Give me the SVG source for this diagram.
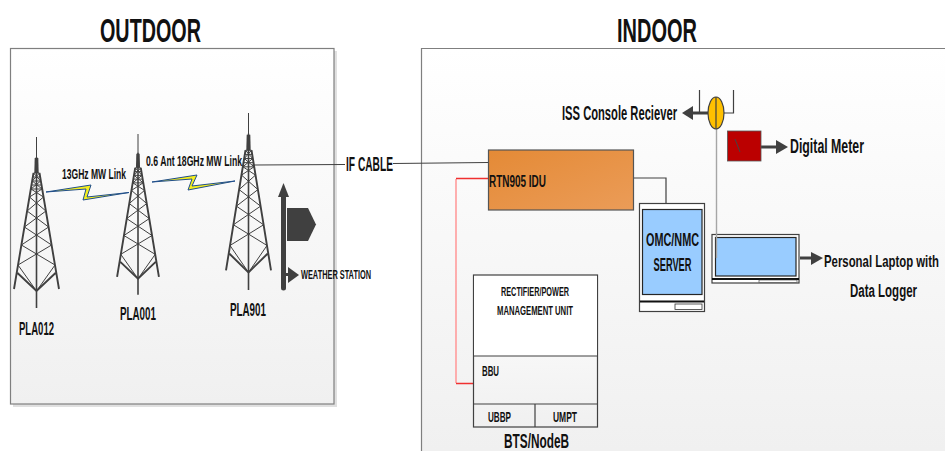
<svg xmlns="http://www.w3.org/2000/svg" width="945" height="451" viewBox="0 0 945 451">
<style>
text{font-family:"Liberation Sans",Arial,sans-serif;font-weight:bold;fill:#111}
.panel{stroke:#7f7f7f;stroke-width:1.2}
.c{fill:none;stroke:#404040;stroke-width:1.2}
.ar{fill:none;stroke:#404040;stroke-width:3}
.hd{fill:#404040;stroke:none}
.box{fill:#fff;stroke:#404040;stroke-width:1.2}
.scr{fill:#99ccff;stroke:#262626;stroke-width:1.2}
.bar{fill:none;stroke:#111;stroke-width:2}
.bolt{fill:#f5ee1e;stroke:#1f4e8c;stroke-width:1}
.t1{fill:none;stroke:#404040;stroke-width:1}
.t2{fill:none;stroke:#404040;stroke-width:1.9}
</style>
<defs>
<linearGradient id="pg" x1="0" y1="0" x2="0" y2="1"><stop offset="0" stop-color="#fff"/><stop offset="1" stop-color="#f0f0f0"/></linearGradient>
<linearGradient id="og" x1="0" y1="0" x2="1" y2="1"><stop offset="0" stop-color="#e48a36"/><stop offset="1" stop-color="#eb9c58"/></linearGradient>
<g id="tower">
<path class="t1" d="M0 0V21" vector-effect="non-scaling-stroke"/>
<path class="t1" d="M0 20V171" vector-effect="non-scaling-stroke" style="stroke-width:1.6"/>
<path d="M-2.200 36L-1.800 21H1.800L2.200 36Z" fill="#404040"/>
<path class="t2" d="M-3 36L-22.500 152M3 36L22.500 152M-19 136L0 154L19 136" vector-effect="non-scaling-stroke"/>
<path class="t1" vector-effect="non-scaling-stroke" d="M-3 36H3M-3.500 40H3.500M-4.200 44H4.200M-4.800 48H4.800M-5.500 52H5.500M-3 36L4.200 44M3 36L-4.200 44M-4.200 44L5.500 52M4.200 44L-5.500 52M-5.500 52L7 60M5.500 52L-7 60M-7 60L9.400 74M7 60L-9.400 74M-9.400 74L12.100 90M9.400 74L-12.100 90M-12.100 90L15.100 108M12.100 90L-15.100 108M-15.100 108L18.500 128M15.100 108L-18.500 128M-18.500 128L0 154M18.500 128L0 154"/>
</g>
</defs>

<g id="outdoor-panel">
<rect x="13" y="51" width="324" height="356" fill="#bbb" opacity=".45"/>
<rect class="panel" x="10.500" y="48.500" width="323.500" height="355.500" fill="url(#pg)"/>
<text x="100" y="42" font-size="34" textLength="101" lengthAdjust="spacingAndGlyphs">OUTDOOR</text>
</g>
<g id="indoor-panel">
<path d="M421.500 451V48.500H945V451Z" fill="url(#pg)" stroke="none"/>
<path class="panel" d="M421.500 451V48.500H945" fill="none"/>
<text x="617" y="42" font-size="34" textLength="80" lengthAdjust="spacingAndGlyphs">INDOOR</text>
</g>

<g id="connectors">
<path class="c" d="M252 165L345 164.500M393 163.500L488 162.500"/>
<path class="c" d="M633 178H666V209"/>
<path fill="none" stroke="#ff9c9c" stroke-width="1.600" d="M456 179V383"/>
<path fill="none" stroke="#f03030" stroke-width="1.300" d="M488 178.500H456M456 383.500H473"/>
<path fill="none" stroke="#a6a6a6" stroke-width="1.400" d="M716.500 129V258"/>
<path class="ar" d="M708 113H690"/><path class="hd" d="M682 113L693 106V120Z"/>
<path class="c" d="M699.500 90V113M733.500 90V113H724"/>
<path class="ar" d="M761 147H778"/><path class="hd" d="M788 147L776 140V154Z"/>
<path class="ar" d="M800 258H814"/><path class="hd" d="M823 258L811 252V265Z"/>
</g>

<g id="link-13ghz">
<polygon class="bolt" points="46,192 91,185 87,197 129,192.500 83,200 86,189"/>
<text x="62" y="179" font-size="14.500" textLength="64" lengthAdjust="spacingAndGlyphs">13GHz MW Link</text>
</g>
<g id="link-18ghz">
<polygon class="bolt" points="152,182 197,175 192,186 235,181 188,190 192,179"/>
<text x="146" y="166" font-size="14.500" textLength="96" lengthAdjust="spacingAndGlyphs">0.6 Ant 18GHz MW Link</text>
</g>
<g id="pla012">
<use href="#tower" transform="translate(36.500 137)"/>
<text x="19" y="335" font-size="18" textLength="35" lengthAdjust="spacingAndGlyphs">PLA012</text>
</g>
<g id="pla001">
<use href="#tower" transform="translate(138 134) scale(.93 .94)"/>
<text x="120" y="320" font-size="18" textLength="36" lengthAdjust="spacingAndGlyphs">PLA001</text>
</g>
<g id="pla901">
<use href="#tower" transform="translate(248.500 113) scale(1 1.035)"/>
<text x="230" y="316" font-size="18" textLength="36" lengthAdjust="spacingAndGlyphs">PLA901</text>
</g>
<g id="weather-station">
<path d="M283.500 195V288" stroke="#404040" stroke-width="5" stroke-linecap="round" fill="none"/>
<path class="hd" d="M278 197L283.500 183L289 197Z"/>
<path class="hd" d="M287 208H308L316 224.500L308 241H287Z"/>
<path class="ar" d="M285 274.500H292"/><path class="hd" d="M299 275L288 267V283Z"/>
<text x="301" y="279" font-size="12.500" textLength="70" lengthAdjust="spacingAndGlyphs">WEATHER STATION</text>
</g>
<g id="if-cable"><text x="346" y="171" font-size="20" textLength="47" lengthAdjust="spacingAndGlyphs">IF CABLE</text></g>
<g id="rtn905-idu">
<rect x="488.500" y="150" width="145" height="60" fill="url(#og)" stroke="#555" stroke-width="1.2"/>
<text x="489" y="187" font-size="16" textLength="57" lengthAdjust="spacingAndGlyphs">RTN905 IDU</text>
</g>
<g id="iss-console">
<ellipse cx="716" cy="113" rx="8" ry="16" fill="#ffc000" stroke="#404040" stroke-width="1.200"/>
<path d="M716 97V129" stroke="#404040" stroke-width="1.200"/>
<text x="562" y="120" font-size="20" textLength="115" lengthAdjust="spacingAndGlyphs">ISS Console Reciever</text>
</g>
<g id="digital-meter">
<rect x="727.500" y="131" width="33.500" height="30" fill="#bb0000" stroke="#555" stroke-width=".8"/>
<path d="M740 152L735 139" stroke="#444" stroke-width="1" fill="none"/>
<text x="790" y="153" font-size="20" textLength="74" lengthAdjust="spacingAndGlyphs">Digital Meter</text>
</g>
<g id="omc-nmc-server">
<rect class="box" x="639.500" y="203.500" width="65" height="108"/>
<rect class="scr" x="642.500" y="209.500" width="59.500" height="85"/>
<path class="bar" d="M640 301.500H704"/>
<rect x="675" y="304" width="27" height="5.500" fill="#fff" stroke="#333" stroke-width=".8"/>
<text x="646" y="246" font-size="18.500" textLength="53" lengthAdjust="spacingAndGlyphs">OMC/NMC</text>
<text x="653.500" y="271" font-size="18.500" textLength="38" lengthAdjust="spacingAndGlyphs">SERVER</text>
</g>
<g id="personal-laptop">
<rect class="box" x="712" y="234.500" width="87" height="48.500"/>
<rect class="scr" x="715.500" y="237.500" width="80.500" height="38.500"/>
<path d="M716.500 234V258" stroke="#a6a6a6" stroke-width="1.400" fill="none"/>
<path class="bar" d="M712 279H799"/>
<rect x="759" y="280" width="38" height="2.500" fill="#fff" stroke="#333" stroke-width=".6"/>
<text transform="translate(824 267) scale(1 1.5)" font-size="11.500" textLength="115" lengthAdjust="spacingAndGlyphs">Personal Laptop with</text>
<text transform="translate(850 297) scale(1 1.5)" font-size="12.300" textLength="67" lengthAdjust="spacingAndGlyphs">Data Logger</text>
</g>
<g id="bts-nodeb">
<rect x="473.500" y="275" width="124" height="152" fill="url(#pg)" stroke="#404040" stroke-width="1.200"/>
<rect x="474" y="276" width="123" height="80" fill="#fff"/>
<path class="c" d="M473.500 356H597.500M473.500 404H597.500M535 404V427"/>
<text x="501" y="296" font-size="13" textLength="68" lengthAdjust="spacingAndGlyphs">RECTIFIER/POWER</text>
<text x="497" y="315" font-size="13" textLength="76" lengthAdjust="spacingAndGlyphs">MANAGEMENT UNIT</text>
<text x="482" y="376" font-size="14" textLength="17" lengthAdjust="spacingAndGlyphs">BBU</text>
<text x="488" y="422" font-size="14.500" textLength="23" lengthAdjust="spacingAndGlyphs">UBBP</text>
<text x="553" y="422" font-size="14.500" textLength="24" lengthAdjust="spacingAndGlyphs">UMPT</text>
<text x="504" y="448" font-size="20.500" textLength="65" lengthAdjust="spacingAndGlyphs">BTS/NodeB</text>
</g>
</svg>
